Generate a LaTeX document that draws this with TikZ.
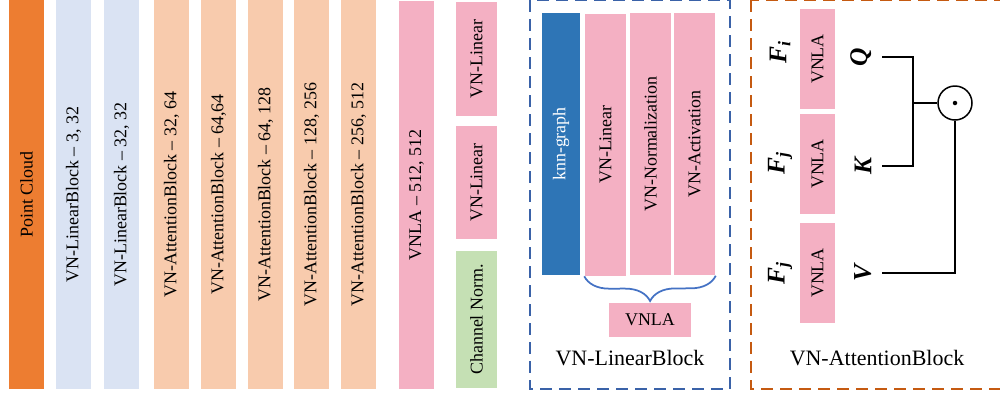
\documentclass[tikz,border=0pt]{standalone}
\usepackage{fontspec}
\setmainfont{Liberation Serif}
\usepackage{tikz}
\usetikzlibrary{decorations.pathreplacing}

\definecolor{pcorange}{HTML}{ED7D31}
\definecolor{linblue}{HTML}{DAE3F3}
\definecolor{attpeach}{HTML}{F8CBAD}
\definecolor{vnpink}{HTML}{F4B0C3}
\definecolor{cngreen}{HTML}{C5E0B4}
\definecolor{knnblue}{HTML}{2E75B6}
\definecolor{boxblue}{HTML}{3A62A8}
\definecolor{boxorange}{HTML}{C55A11}
\definecolor{braceblue}{HTML}{4472C4}

\begin{document}
\begin{tikzpicture}[x=0.2mm, y=-0.2mm, line width=0.3mm]
    \tikzstyle{bar}=[rotate=90, inner sep=0pt, minimum height=7mm, font=\fontsize{10.2}{12}\selectfont]
    \tikzstyle{lbl}=[rotate=90, inner sep=2mm, anchor=south, font=\fontsize{14.5}{16}\selectfont\bfseries\itshape]
    \tikzstyle{captxt}=[font=\fontsize{12.5}{14}\selectfont]

    \useasboundingbox (0,0) rectangle (1000,394);

    % Rede
    \node[bar, fill=pcorange, minimum width=77.8mm] (pc) at (26.5,194.5) {Point Cloud};
    \node[bar, fill=linblue, minimum width=77.8mm] (lb1) at (73.5,194.5) {VN-LinearBlock -- 3, 32};
    \node[bar, fill=linblue, minimum width=77.8mm] (lb2) at (121.5,194.5) {VN-LinearBlock -- 32, 32};
    \node[bar, fill=attpeach, minimum width=77.8mm] (ab1) at (171.5,194.5) {VN-AttentionBlock -- 32, 64};
    \node[bar, fill=attpeach, minimum width=77.8mm] (ab2) at (218.5,194.5) {VN-AttentionBlock -- 64,64};
    \node[bar, fill=attpeach, minimum width=77.8mm] (ab3) at (265.5,194.5) {VN-AttentionBlock -- 64, 128};
    \node[bar, fill=attpeach, minimum width=77.8mm] (ab4) at (311.5,194.5) {VN-AttentionBlock -- 128, 256};
    \node[bar, fill=attpeach, minimum width=77.8mm] (ab5) at (358.5,194.5) {VN-AttentionBlock -- 256, 512};
    \node[bar, fill=vnpink, minimum width=77.6mm] (vnla) at (416.5,195) {VNLA -- 512, 512};

    % VNLA
    \node[bar, fill=vnpink, minimum width=22.8mm, minimum height=8.2mm] (lin1) at (476.5,59) {VN-Linear};
    \node[bar, fill=vnpink, minimum width=22.6mm, minimum height=8.2mm] (lin2) at (476.5,182.5) {VN-Linear};
    \node[bar, fill=cngreen, minimum width=27.4mm, minimum height=8.2mm] (cn) at (476.5,319.5) {Channel Norm.};

    % VN-LinearBlock
    \draw[boxblue, line width=0.4mm, dash pattern=on 2.4mm off 1.4mm] (530,0) rectangle (730,389);
    \node[bar, fill=knnblue, text=white, minimum width=52.4mm, minimum height=7.6mm] (knn) at (561,144) {knn-graph};
    \node[bar, fill=vnpink, minimum width=52.4mm, minimum height=8.2mm] (vlin) at (605.5,144.5) {VN-Linear};
    \node[bar, fill=vnpink, minimum width=52.4mm, minimum height=8.2mm] (vnorm) at (650.5,144) {VN-Normalization};
    \node[bar, fill=vnpink, minimum width=52.4mm, minimum height=8.2mm] (vact) at (694.5,144) {VN-Activation};
    \node[fill=vnpink, inner sep=0pt, minimum width=16.4mm, minimum height=6.8mm, font=\fontsize{10.2}{12}\selectfont] (vnla0) at (650,320) {VNLA};
    \draw[braceblue, line width=0.35mm, decorate, decoration={brace, amplitude=5mm}] (vact.south west) -- (vlin.north west);
    \node[captxt] (lbcap) at (630,358) {VN-LinearBlock};

    % VN-AttentionBlock
    \draw[boxorange, line width=0.4mm, dash pattern=on 2.4mm off 1.4mm] (751,0) rectangle (1012,389);
    \node[bar, fill=vnpink, minimum width=20mm] (va1) at (817.5,59) {VNLA};
    \node[bar, fill=vnpink, minimum width=20mm] (va2) at (817.5,164) {VNLA};
    \node[bar, fill=vnpink, minimum width=20mm] (va3) at (817.5,273) {VNLA};
    \node[lbl, anchor=center, inner sep=0pt] (fi) at (780,52) {F\textsubscript{i}};
    \node[lbl, anchor=center, inner sep=0pt] (fj1) at (780,163) {F\textsubscript{j}};
    \node[lbl, anchor=center, inner sep=0pt] (fj2) at (780,273) {F\textsubscript{j}};
    \node[lbl] (q) at (882,57) {Q};
    \node[lbl] (k) at (882,166) {K};
    \node[lbl] (v) at (882,273) {V};
    \coordinate (jn) at (913,103);
    \node[circle, draw, minimum size=6.8mm, inner sep=0pt] (dot) at (955,103) {};
    \fill (dot.center) circle (0.45mm);

    % Conexoes
    \draw (q.south) -| (jn) |- (k.south);
    \draw (jn) -- (dot.west);
    \draw (v.south) -| (dot.south);
    \node[captxt] (abcap) at (877,358) {VN-AttentionBlock};
\end{tikzpicture}
\end{document}
